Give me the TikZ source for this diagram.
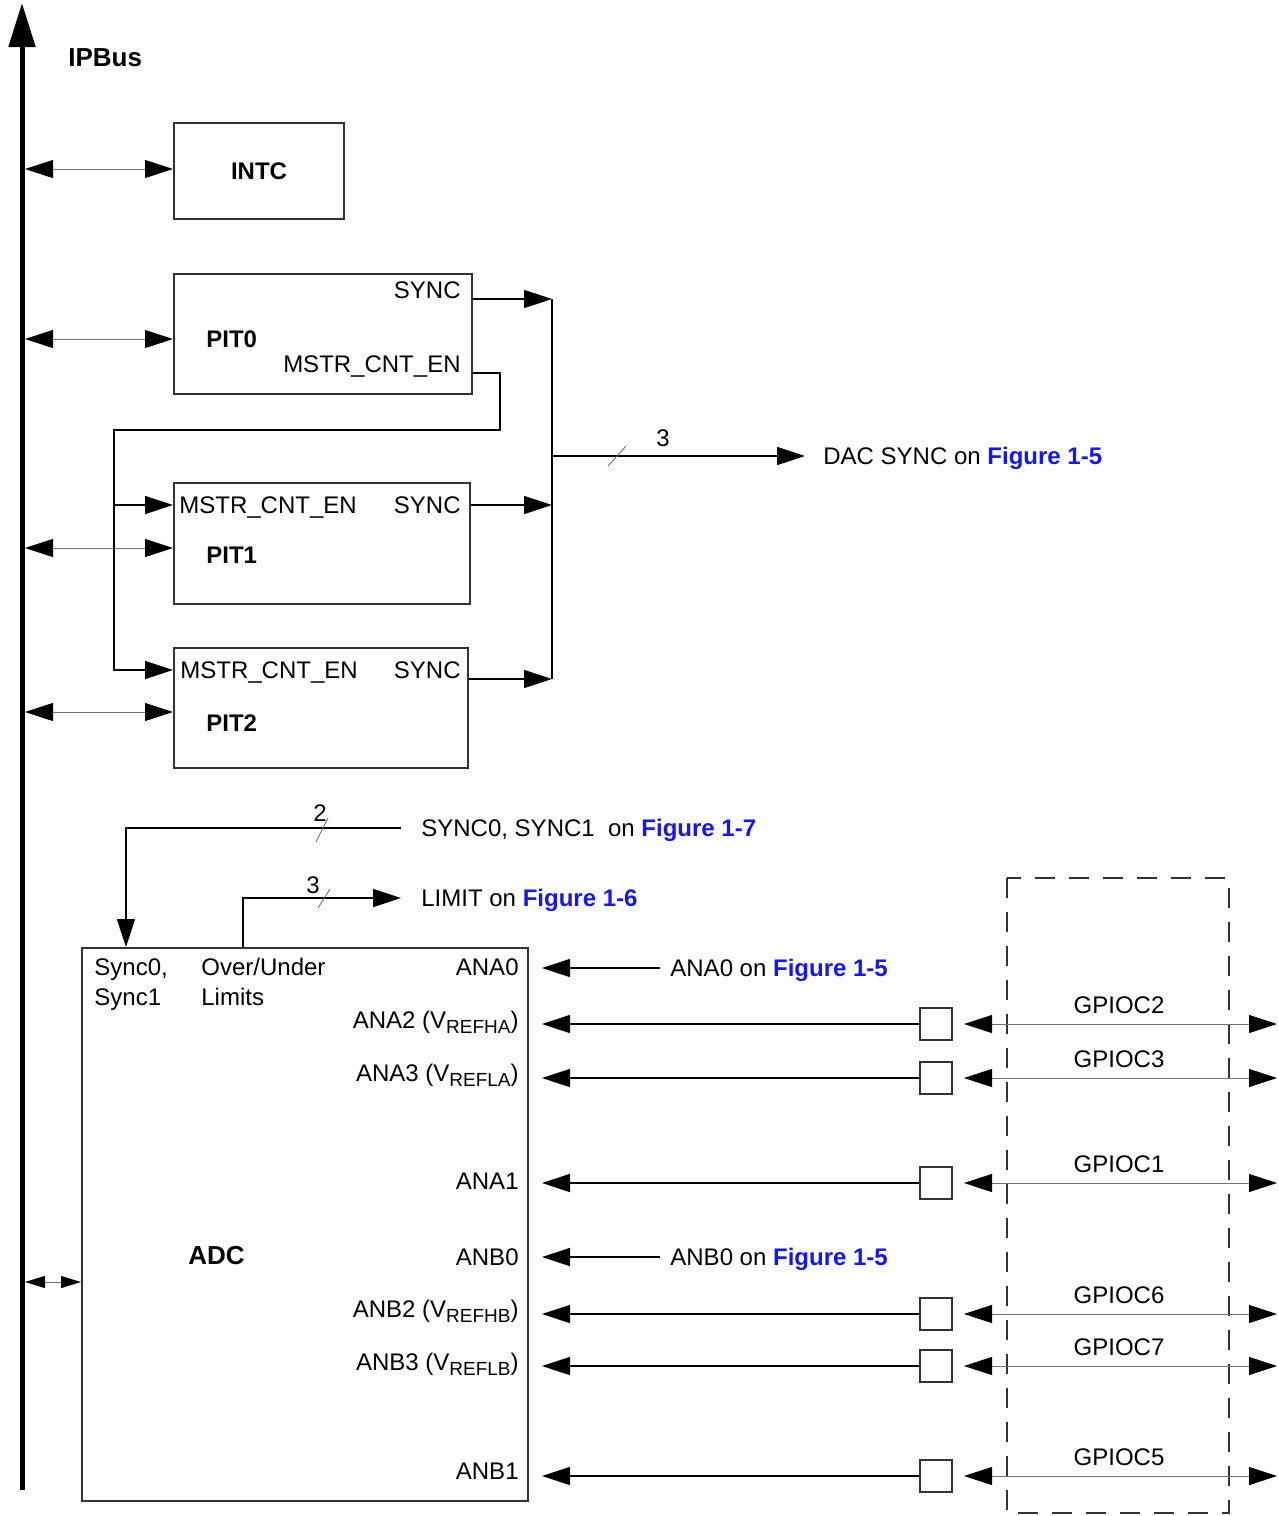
\documentclass[tikz,border=0pt]{standalone}
\usepackage{fontspec}
\setmainfont{Liberation Sans}
\usetikzlibrary{arrows.meta}
\definecolor{figblue}{RGB}{20,20,255}
\newcommand{\figref}[1]{\textcolor{figblue}{\bfseries #1}}
\newcommand{\vsub}[1]{\raisebox{-2.6pt}{\fontsize{9.5}{10}\selectfont #1}}

\begin{document}
\begin{tikzpicture}[x=0.5pt, y=-0.5pt,
  >={Triangle[length=14pt,width=9pt,color=black]},
  every node/.style={font=\fontsize{12}{15}\selectfont, inner sep=0pt},
  blk/.style={draw=black!80, line width=1pt, anchor=north west},
  port/.style={text height=8.6pt, text depth=0pt},
  title/.style={port, font=\fontsize{12}{15}\selectfont\bfseries},
  sig/.style={line width=0.8pt},
  busarr/.style={<->, line width=0.5pt, black!55},
  pad/.style={draw=black!80, line width=1pt, minimum size=16pt},
  tick/.style={line width=0.4pt, black!60}]
\useasboundingbox (0,0) rectangle (1279,1516);
% IPBus
\coordinate (busbot) at (22,1490);
\coordinate (bustop) at (22,3);
\draw[line width=2.5pt, -{Triangle[length=22pt,width=13pt]}] (busbot) -- (bustop);
\node[title, anchor=west, font=\fontsize{13}{15}\selectfont\bfseries] (ipbus) at (68,58) {IPBus};
% INTC and PIT blocks
\node[blk, title, minimum width=85pt, minimum height=48pt] (intc) at (173,122) {INTC};
\node[blk, minimum width=149pt, minimum height=60pt] (pit0) at (173,273) {};
\node[blk, minimum width=148pt, minimum height=60.5pt] (pit1) at (173,482) {};
\node[blk, minimum width=147pt, minimum height=60pt] (pit2) at (173,647) {};
\node[title, anchor=west] (pit0name) at (206,339) {PIT0};
\node[title, anchor=west] (pit1name) at (206,555) {PIT1};
\node[title, anchor=west] (pit2name) at (206,723) {PIT2};
\node[port, anchor=east] (pit0sync) at (461,290) {SYNC};
\node[port, anchor=east] (pit0mstr) at (461,364) {MSTR\_CNT\_EN};
\node[port, anchor=west] (pit1mstr) at (179,505) {MSTR\_CNT\_EN};
\node[port, anchor=east] (pit1sync) at (461,505) {SYNC};
\node[port, anchor=west] (pit2mstr) at (180,670) {MSTR\_CNT\_EN};
\node[port, anchor=east] (pit2sync) at (461,670) {SYNC};
% bus links
\foreach \nm/\yy in {intc/169, pit0/339, pit1/548, pit2/712}{
  \coordinate (\nm io) at (173,\yy);
  \draw[busarr, shorten <=1.5pt] (\nm io -| busbot) -- (\nm io);
}
% SYNC outputs
\coordinate (sbus) at (552,456);
\draw[sig] (pit0sync.south -| sbus) -- (pit2sync.south -| sbus);
\draw[sig, ->] (pit0sync.south -| pit0.east) -- (pit0sync.south -| sbus);
\draw[sig, ->] (pit1sync -| pit1.east) -- (pit1sync -| sbus);
\draw[sig, ->] (pit2sync.south -| pit2.east) -- (pit2sync.south -| sbus);
\node[port, anchor=west] (dacsync) at (823,456) {DAC SYNC on \figref{Figure 1-5}};
\draw[sig, ->, shorten >=9pt] (sbus) -- (dacsync.west);
\draw[tick] (608,466) -- (626,446);
\node[port] (daccount) at (663,438) {3};
% MSTR_CNT_EN chain
\coordinate (mfold) at (500,430);
\coordinate (mleft) at (114,430);
\draw[sig, ->] (pit0mstr.south -| pit0.east) -| (mfold) -- (mleft) |- (pit2mstr -| pit2.west);
\draw[sig, ->] (mleft |- pit1mstr) -- (pit1mstr -| pit1.west);
% ADC
\node[blk, minimum width=223pt, minimum height=276.5pt] (adc) at (81,947) {};
\node[title, anchor=west, font=\fontsize{13}{15}\selectfont\bfseries] (adcname) at (188,1256) {ADC};
\node[anchor=north west, align=left] (adcsync) at (94,958) {Sync0,\\Sync1};
\node[anchor=north west, align=left] (adclimits) at (201,958) {Over/Under\\Limits};
\coordinate (adcio) at (81,1282);
\draw[line width=0.5pt, black!55, {Triangle[length=10pt,width=6pt,color=black]}-{Triangle[length=10pt,width=6pt,color=black]}, shorten <=1.5pt] (adcio -| busbot) -- (adcio);
% SYNC0/SYNC1 and LIMIT
\coordinate (adcsyncin) at (126,947);
\coordinate (adclimout) at (243,947);
\node[port, anchor=west] (sync01) at (421,828) {SYNC0, SYNC1\ \ on \figref{Figure 1-7}};
\draw[sig, ->, shorten <=10pt] (sync01.west) -| (adcsyncin);
\draw[tick] (316,842) -- (328,818);
\node[port] (synccount) at (320,813) {2};
\node[port, anchor=west] (limit) at (421,898) {LIMIT on \figref{Figure 1-6}};
\draw[sig, ->, shorten >=10pt] (adclimout) |- (limit.west);
\draw[tick] (318,908) -- (330,889);
\node[port] (limcount) at (313,885) {3};
% analog inputs
\foreach \nm/\yy/\txt in {ana0/967/ANA0, ana2/1020/{ANA2 (V\vsub{REFHA})},
    ana3/1073/{ANA3 (V\vsub{REFLA})}, ana1/1181/ANA1, anb0/1257/ANB0,
    anb2/1309/{ANB2 (V\vsub{REFHB})}, anb3/1362/{ANB3 (V\vsub{REFLB})}, anb1/1471/ANB1}
  \node[port, anchor=east] (\nm) at (519,\yy) {\txt};
\node[port, anchor=west] (srcana0) at (670,968) {ANA0 on \figref{Figure 1-5}};
\node[port, anchor=west] (srcanb0) at (670,1257) {ANB0 on \figref{Figure 1-5}};
\foreach \nm in {ana0, anb0}
  \draw[sig, ->, shorten <=5pt, shorten >=6.5pt] (src\nm.west) -- (src\nm.west -| adc.east);
% GPIO pads
\coordinate (rightend) at (1277,0);
\draw[dash pattern=on 10pt off 7pt, line width=0.6pt, black!80] (1007,878) rectangle (1229,1513);
\foreach \nm/\yy/\gp in {ana2/1024/GPIOC2, ana3/1078/GPIOC3, ana1/1183/GPIOC1,
    anb2/1314/GPIOC6, anb3/1366/GPIOC7, anb1/1476/GPIOC5}{
  \node[pad] (pad\nm) at (936,\yy) {};
  \draw[sig, ->, shorten >=6.5pt] (pad\nm.west) -- (pad\nm.west -| adc.east);
  \draw[busarr, shorten <=5.5pt] (pad\nm.east) -- (pad\nm.east -| rightend);
  \node[port] (gp\nm) at (1119,\yy-19) {\gp};
}
\end{tikzpicture}
\end{document}
